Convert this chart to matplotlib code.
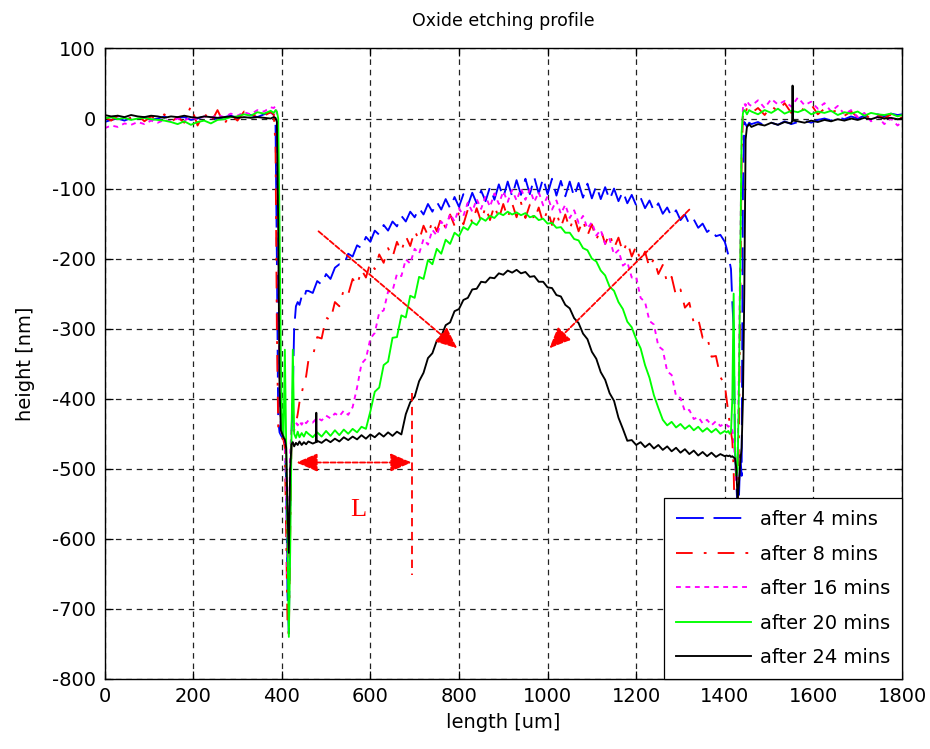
import numpy as np
import matplotlib.pyplot as plt

plt.rcParams['font.family'] = ['DejaVu Sans']
plt.rcParams['lines.scale_dashes'] = False
plt.rcParams['axes.unicode_minus'] = False

# sampling positions along the scan [um]
x_left = list(range(0, 376, 15))
x_edge_l = [382, 386, 389, 392, 395, 398, 401, 404, 407, 410, 413, 416, 419,
            422, 425, 428, 432, 436, 440, 445, 450, 455]
x_dome = list(range(460, 1401, 10))
x_edge_r = [1404, 1408, 1411, 1414, 1417, 1420, 1423, 1426, 1429, 1432, 1435,
            1438, 1441, 1444, 1447, 1450, 1455]
x_right = list(range(1460, 1791, 15)) + [1800]
length = np.array(x_left + x_edge_l + x_dome + x_edge_r + x_right)

# heights [nm]
h_4 = [
    -5, -2, 0, -3, 1, -1, 2, -2, 0, 3, -1, 1, 2, -2, 0, 3, 1, -1, 2, 4, 1, 3, 5, 2, 6, 9,
    5, -10, -200, -430, -448, -452, -455, -458, -462, -520, -680, -735, -560, -450, -390,
    -300, -268, -262, -266, -254, -258, -246,
    -246, -249, -232, -237, -222, -229, -213, -208, -209, -193, -197, -181, -185, -169,
    -176, -160, -166, -152, -160, -147, -154, -139, -147, -133, -141, -128, -137, -122,
    -133, -119, -130, -115, -128, -112, -126, -108, -124, -106, -121, -103, -118, -98,
    -116, -94, -113, -90, -111, -88, -109, -86, -108, -84, -107, -85, -108, -86, -110,
    -89, -111, -90, -112, -92, -113, -93, -114, -96, -115, -98, -116, -100, -118, -104,
    -121, -109, -124, -113, -128, -117, -132, -121, -136, -127, -140, -131, -145, -137,
    -151, -144, -156, -150, -162, -157, -168, -166, -176,
    -185, -195, -205, -215, -262, -300, -470, -520, -560, -540, -480, -510, -100, -5,
    -8, -12, -6,
    -8, -5, -10, -6, -9, -4, -8, -5, -3, -6, -2, 0, -3, 2, -1, 3, 0, 4, 2, 6, 3, 7, 5, 6]
h_8 = [
    2, -3, 4, -2, 1, 5, -4, 3, -1, 6, -5, 2, -6, 18, -10, 8, -6, 12, -8, 6, -3, 10, 2, 7, 4, 9,
    6, -40, -300, -440, -450, -453, -456, -459, -470, -600, -720, -738, -600, -458, -450,
    -445, -435, -422, -405, -392, -378, -368,
    -346, -340, -312, -314, -284, -288, -262, -268, -244, -251, -229, -238, -216, -227,
    -205, -215, -194, -206, -185, -198, -176, -190, -168, -182, -160, -174, -153, -167,
    -146, -161, -141, -157, -137, -153, -134, -151, -130, -149, -128, -147, -126, -145,
    -124, -143, -122, -142, -121, -141, -120, -142, -123, -145, -127, -149, -130, -152,
    -134, -155, -137, -158, -140, -161, -145, -167, -151, -173, -158, -179, -164, -185,
    -170, -191, -176, -197, -182, -204, -190, -213, -200, -222, -209, -235, -226, -253,
    -244, -270, -263, -292, -286, -313, -310, -340, -339, -369, -380,
    -400, -420, -435, -448, -460, -500, -600, -620, -560, -450, -250, -60, 5, 12, 8, 15, 10,
    8, 15, 5, 18, 10, 22, 8, 16, 12, 20, 6, 14, 9, 12, 4, 10, 2, 8, -2, 5, 0, 6, -3, 2]
h_16 = [
    -14, -10, -12, -7, -9, -5, -8, -3, -6, -2, -4, 0, -3, 2, -1, 3, 1, 5, 2, 7, 4, 9, 6,
    12, 10, 16,
    15, 18, 5, -150, -380, -445, -452, -456, -460, -540, -650, -600, -480, -440, -436,
    -440, -434, -438, -432, -437, -431, -435,
    -431, -434, -427, -431, -424, -428, -421, -425, -417, -423, -412, -384, -350, -343,
    -314, -306, -277, -274, -247, -246, -222, -225, -201, -207, -186, -193, -172, -180,
    -159, -167, -147, -156, -136, -147, -128, -139, -120, -133, -115, -129, -111, -126,
    -107, -122, -104, -119, -102, -117, -100, -116, -101, -119, -105, -124, -111, -130,
    -117, -136, -123, -142, -131, -149, -139, -157, -148, -167, -159, -179, -172, -194,
    -188, -210, -205, -227, -226, -256, -262, -289, -294, -325, -330, -361, -366, -396,
    -399, -418, -416, -429, -426, -435, -430, -438, -432, -439, -435,
    -437, -440, -438, -442, -445, -455, -490, -520, -480, -350, -180, -40, 15, 22, 18,
    25, 20,
    18, 26, 15, 28, 20, 25, 17, 30, 19, 24, 14, 22, 10, 18, 6, 12, 2, 8, -4, 3, -8, 0,
    -10, -5]
h_20 = [
    0, 2, -1, 1, -2, 0, 1, -1, -2, -3, -5, -8, -4, -9, -5, -3, -7, -2, -1, 2, 3, 6, 4, 9,
    7, 11,
    8, 12, 10, 0, -150, -350, -448, -455, -330, -460, -600, -740, -620, -455, -330, -450,
    -456, -447, -455, -449, -454, -447,
    -450, -455, -448, -454, -446, -453, -445, -452, -444, -450, -443, -448, -440, -443,
    -418, -390, -384, -352, -347, -313, -312, -281, -284, -253, -256, -226, -229, -202,
    -208, -186, -193, -173, -179, -163, -168, -155, -159, -148, -152, -142, -146, -139,
    -142, -135, -138, -133, -137, -134, -138, -135, -141, -139, -145, -143, -150, -149,
    -156, -155, -163, -163, -172, -174, -185, -188, -200, -204, -217, -224, -240, -246,
    -262, -272, -290, -298, -315, -328, -352, -370, -395, -413, -430, -438, -433, -441,
    -436, -443, -438, -445, -440, -447, -442, -448, -443, -450, -446,
    -448, -446, -450, -447, -400, -250, -470, -510, -500, -380, -200, -20, 8, 12, 10, 6, 12,
    10, 6, 12, 8, 14, 7, 11, 9, 13, 6, 10, 8, 11, 5, 9, 7, 10, 4, 8, 6, 5, 7, 3, 5]
h_24 = [
    5, 3, 4, 2, 5, 3, 2, 4, 3, 1, 3, 2, 4, 2, 1, 3, 2, 1, 2, 3, 1, 2, 1, 2, 1, 0,
    2, 1, -5, -150, -380, -445, -450, -455, -458, -470, -560, -620, -500, -465, -462,
    -468, -463, -466, -461, -466, -462, -465,
    -461, -464, -460, -463, -458, -462, -457, -461, -455, -459, -454, -458, -452, -457,
    -451, -455, -449, -454, -448, -453, -447, -451, -422, -405, -397, -375, -363, -342,
    -335, -317, -311, -295, -291, -275, -272, -259, -256, -244, -243, -233, -234, -227,
    -228, -221, -223, -217, -220, -216, -221, -219, -226, -225, -233, -233, -241, -242,
    -252, -254, -266, -271, -285, -292, -307, -315, -333, -343, -362, -373, -392, -403,
    -427, -443, -460, -459, -466, -462, -469, -464, -471, -466, -473, -468, -475, -470,
    -477, -472, -479, -474, -481, -476, -482, -477, -483, -479, -482,
    -481, -482, -481, -483, -482, -484, -485, -500, -545, -520, -490, -470, -400, -250,
    -30, -12, -8,
    -12, -8, -10, -6, -9, -5, -7, -4, -6, -3, -5, -2, -4, -1, -3, 0, -2, 1, -1, 2, 0, 1,
    -1, 0]
# isolated single-sample spikes of the 24 min scan
spike_24_x = [477, 478, 479, 1552, 1553, 1554]
spike_24_y = [-462, -420, -462, -3, 47, -3]

labels = ['after 4 mins', 'after 8 mins', 'after 16 mins', 'after 20 mins', 'after 24 mins']
colors = ['#0000ff', '#ff0000', '#ff00ff', '#00ff00', '#000000']
dash_styles = [(20, 7), (12, 8, 2, 8), (3.5, 3.3), None, None]

fig = plt.figure(figsize=(9.3, 7.49), dpi=100)
ax = fig.add_axes([0.1124, 0.0935, 0.8575, 0.8418])

x24 = np.concatenate([length, spike_24_x])
y24 = np.concatenate([h_24, spike_24_y])
order = np.argsort(x24, kind='stable')
series = [(length, h_4), (length, h_8), (length, h_16), (length, h_20),
          (x24[order], y24[order])]

for (xs, ys), lab, col, ds in zip(series, labels, colors, dash_styles):
    line, = ax.plot(xs, ys, color=col, lw=1.35, label=lab)
    if ds is not None:
        line.set_dashes(ds)

ax.set_xlim(0, 1800)
ax.set_ylim(-800, 100)
ax.set_xticks(range(0, 1801, 200))
ax.set_yticks(range(-800, 101, 100))
ax.grid(True, color='#222222', lw=0.9, linestyle=(0, (4, 3.5)))
ax.set_axisbelow(True)
ax.tick_params(direction='in', top=True, right=True, length=6, width=0.9,
               labelsize=14, pad=6)
for s in ax.spines.values():
    s.set_linewidth(1.0)

ax.set_title('Oxide etching profile', fontsize=12.5, pad=16)
ax.set_xlabel('length [um]', fontsize=14, labelpad=5)
ax.set_ylabel('height [nm]', fontsize=14, labelpad=12)

# red annotation arrows
head = '-|>,head_length=0.65,head_width=0.28'
ax.annotate('', xy=(796, -328), xytext=(483, -161),
            arrowprops=dict(arrowstyle=head, color='red', lw=1.3, linestyle='--',
                            shrinkA=0, shrinkB=0, mutation_scale=20))
ax.annotate('', xy=(1004, -328), xytext=(1320, -130),
            arrowprops=dict(arrowstyle=head, color='red', lw=1.3, linestyle='--',
                            shrinkA=0, shrinkB=0, mutation_scale=20))
ax.annotate('', xy=(433, -491), xytext=(693, -491),
            arrowprops=dict(arrowstyle='<|-|>,head_length=0.65,head_width=0.28',
                            color='red', lw=1.3, linestyle='--',
                            shrinkA=0, shrinkB=0, mutation_scale=20))
ax.plot([693, 693], [-392, -652], color='red', lw=1.3, dashes=(6, 4))
ax.text(573, -559, 'L', color='red', fontsize=19, family='Liberation Serif',
        ha='center', va='center')

leg = ax.legend(loc='lower right', fontsize=14, borderaxespad=0, fancybox=False,
                framealpha=1, edgecolor='black', handlelength=3.9,
                handletextpad=0.45, labelspacing=0.8, borderpad=0.6)
leg.get_frame().set_linewidth(0.9)
leg.set_zorder(10)

fig.savefig('out.png', dpi=100)
